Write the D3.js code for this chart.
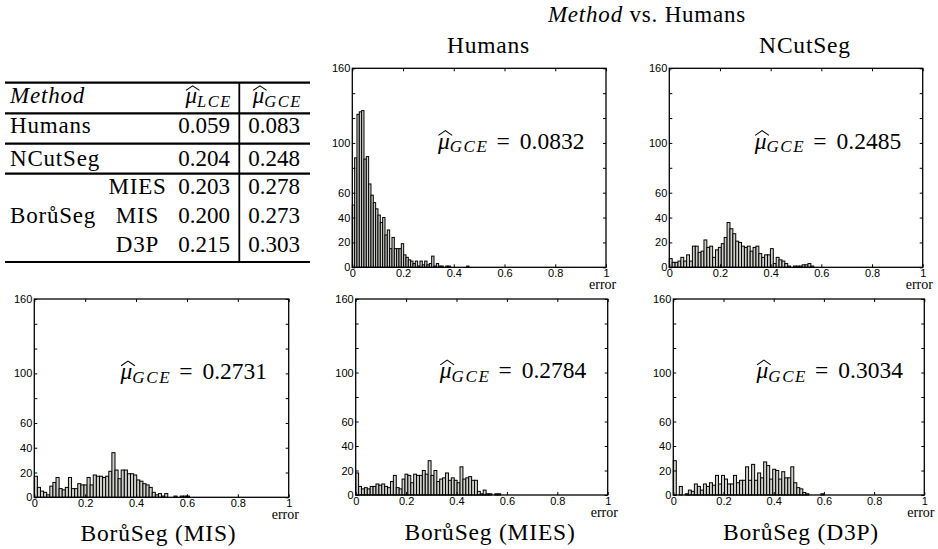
<!DOCTYPE html>
<html>
<head>
<meta charset="utf-8">
<script src="https://cdnjs.cloudflare.com/ajax/libs/d3/7.8.5/d3.min.js"></script>
<style>
body { margin: 0; background: #fff; }
.axis text { font-family: "Liberation Sans", Arial, sans-serif; font-size: 11px; fill: #000; }
.axis line { stroke: #000; stroke-width: 1; }
.axis path { display: none; }
</style>
</head>
<body>
<div id="chart"></div>
<script>
//Datos
const xTicks = [0, 0.2, 0.4, 0.6, 0.8, 1];
const xTickLabels = ['0', '0.2', '0.4', '0.6', '0.8', '1'];
const yTicks = [0, 20, 40, 60, 80, 100, 120, 140, 160];
const yTickLabels = { 0: '0', 20: '20', 40: '40', 60: '60', 100: '100', 160: '160' };
const yMax = 160;

//Histogramas (50 bins entre 0 y el máximo de cada método)
const humansCounts = [50, 88, 123, 125, 126, 87, 89, 67, 58, 52, 47, 42, 36, 40, 26, 30, 15, 24, 15, 15, 15, 19, 10, 8, 6, 5, 3, 5, 1, 5, 2, 5, 2, 3, 9, 1, 3, 1, 1, 0, 1, 1, 0, 0, 0, 0, 0, 0, 0, 1];
const ncutCounts = [7, 4, 4, 5, 8, 5, 10, 5, 17, 17, 12, 13, 22, 16, 17, 8, 14, 16, 19, 24, 36, 31, 27, 21, 20, 17, 16, 17, 13, 16, 17, 11, 8, 10, 10, 15, 3, 8, 6, 5, 3, 1, 0, 1, 1, 1, 2, 2, 3, 1];
const misCounts = [17, 8, 5, 4, 2, 9, 12, 16, 7, 6, 8, 16, 7, 7, 11, 10, 10, 16, 10, 18, 17, 17, 16, 17, 21, 36, 22, 15, 22, 22, 19, 19, 18, 14, 13, 11, 10, 8, 4, 2, 3, 1, 3, 0, 0, 1, 0, 1, 1, 1];
const miesCounts = [18, 7, 5, 6, 5, 7, 7, 9, 8, 9, 7, 6, 11, 16, 6, 5, 13, 17, 16, 10, 17, 16, 16, 20, 17, 28, 16, 20, 11, 13, 14, 18, 12, 14, 12, 10, 23, 13, 14, 15, 12, 12, 3, 1, 4, 1, 1, 0, 1, 1];
const d3pCounts = [28, 0, 7, 0, 1, 4, 3, 9, 7, 4, 9, 7, 10, 8, 16, 9, 16, 13, 9, 9, 16, 10, 12, 12, 23, 12, 25, 12, 18, 14, 27, 24, 13, 21, 20, 13, 19, 14, 14, 23, 10, 6, 5, 2, 1, 0, 0, 0, 0, 1];
const binMax = [0.46, 0.57, 0.61, 0.575, 0.60];

const panelNames = ['Humans', 'NCutSeg', 'BorůSeg (MIS)', 'BorůSeg (MIES)', 'BorůSeg (D3P)'];
const gceLabels = ['0.0832', '0.2485', '0.2731', '0.2784', '0.3034'];

//Tabla
const tableMethods = ['Humans', 'NCutSeg', 'MIES', 'MIS', 'D3P'];
const lceValues = ['0.059', '0.204', '0.203', '0.200', '0.215'];
const gceValues = ['0.083', '0.248', '0.278', '0.273', '0.303'];
const groupLabel = 'BorůSeg';

const SERIF = '"Liberation Serif", "Times New Roman", serif';

//Layout
const W = 938, H = 549;
const svg = d3.select('#chart').append('svg')
    .attr('width', W).attr('height', H)
    .style('display', 'block');

const panels = [
    { x0: 352.3, x1: 606, y0: 68.3, y1: 267.3, tx: 488.5, ty: 52.5 },
    { x0: 669.3, x1: 922.7, y0: 68.3, y1: 267.3, tx: 805, ty: 53 },
    { x0: 34.3, x1: 288.7, y0: 299, y1: 497.3, tx: 158.5, ty: 541 },
    { x0: 355.7, x1: 607.7, y0: 299, y1: 495, tx: 490, ty: 540 },
    { x0: 673.3, x1: 924.3, y0: 299, y1: 495, tx: 801, ty: 540 }
];
const allCounts = [humansCounts, ncutCounts, misCounts, miesCounts, d3pCounts];

function serifText(g, x, y, fs) {
    return g.append('text')
        .attr('x', x).attr('y', y)
        .style('font-family', SERIF)
        .style('font-size', fs + 'px')
        .style('fill', '#000');
}

//μ con sombrero + subíndice (+ resto opcional), alineado a la derecha
function mathLabel(g, xEnd, yBase, fs, sub, subFs, rest) {
    let t = serifText(g, xEnd, yBase, fs).attr('text-anchor', 'end');
    t.append('tspan').style('font-style', 'italic').text('μ');
    t.append('tspan').style('font-style', 'italic')
        .style('font-size', subFs + 'px')
        .style('letter-spacing', '1.6px')
        .attr('dy', fs * 0.16)
        .text(sub);
    if (rest) {
        t.append('tspan').attr('dy', -fs * 0.16).attr('dx', 8).text('=');
        t.append('tspan').attr('dx', 10).text(rest);
    }
    let ex = t.node().getExtentOfChar(0);
    let hx0 = ex.x + 0.5, hx1 = ex.x + ex.width + 2.5;
    g.append('path')
        .attr('d', 'M' + hx0 + ',' + (yBase - fs * 0.56) +
            'L' + ((hx0 + hx1) / 2) + ',' + (yBase - fs * 0.76) +
            'L' + hx1 + ',' + (yBase - fs * 0.56))
        .attr('fill', 'none').attr('stroke', '#000').attr('stroke-width', 1.1);
}

function drawPanel(p, counts, bmax, name, gce) {
    let x = d3.scaleLinear().domain([0, 1]).range([p.x0, p.x1]);
    let y = d3.scaleLinear().domain([0, yMax]).range([p.y1, p.y0]);
    let bw = bmax / counts.length;
    let g = svg.append('g');

    g.append('g').selectAll('rect')
        .data(counts)
        .enter()
        .append('rect')
        .attr('x', function(d, i) { return x(i * bw); })
        .attr('width', x(bw) - x(0))
        .attr('y', function(d) { return y(d); })
        .attr('height', function(d) { return y(0) - y(d); })
        .attr('fill', '#cfcfcb')
        .attr('stroke', '#000')
        .attr('stroke-width', 1);

    //Ejes
    g.append('g').attr('class', 'axis')
        .attr('transform', 'translate(0,' + p.y1 + ')')
        .call(d3.axisBottom(x).tickValues(xTicks).tickSize(-3).tickPadding(2)
            .tickFormat(function(d, i) { return xTickLabels[i]; }));
    g.append('g').attr('class', 'axis')
        .attr('transform', 'translate(0,' + p.y0 + ')')
        .call(d3.axisTop(x).tickValues(xTicks).tickSize(-3).tickFormat(''));
    g.append('g').attr('class', 'axis')
        .attr('transform', 'translate(' + p.x0 + ',0)')
        .call(d3.axisLeft(y).tickValues(yTicks).tickSize(-3).tickPadding(2)
            .tickFormat(function(d) { return yTickLabels[d] || ''; }));
    g.append('g').attr('class', 'axis')
        .attr('transform', 'translate(' + p.x1 + ',0)')
        .call(d3.axisRight(y).tickValues(yTicks).tickSize(-3).tickFormat(''));

    g.append('rect')
        .attr('x', p.x0).attr('y', p.y0)
        .attr('width', p.x1 - p.x0).attr('height', p.y1 - p.y0)
        .attr('fill', 'none').attr('stroke', '#000').attr('stroke-width', 1.3);

    serifText(g, p.x1 - 17, p.y1 + 22, 14).text('error');

    //Título
    serifText(g, p.tx, p.ty, 23.5)
        .attr('text-anchor', 'middle')
        .style('letter-spacing', '0.8px')
        .text(name);

    //Media GCE
    mathLabel(g, x(0.915), y(95.5), 23.5, 'GCE', 17, gce);
}

panels.forEach(function(p, i) {
    drawPanel(p, allCounts[i], binMax[i], panelNames[i], gceLabels[i]);
});

//Título superior
let topTitle = serifText(svg, 647, 22, 23)
    .attr('text-anchor', 'middle')
    .style('letter-spacing', '0.8px');
topTitle.append('tspan').style('font-style', 'italic').text('Method');
topTitle.append('tspan').text(' vs. Humans');

//Tabla
let tab = svg.append('g');
[82.7, 113.3, 143.7, 173.7, 262].forEach(function(yy) {
    tab.append('line').attr('x1', 5).attr('x2', 310).attr('y1', yy).attr('y2', yy)
        .attr('stroke', '#000').attr('stroke-width', 2.2);
});
tab.append('line').attr('x1', 239.3).attr('x2', 239.3).attr('y1', 82.7).attr('y2', 262)
    .attr('stroke', '#000').attr('stroke-width', 1.8);

serifText(tab, 10, 103.3, 23)
    .style('font-style', 'italic').style('letter-spacing', '0.8px')
    .text('Method');
mathLabel(tab, 232, 103.3, 23, 'LCE', 16.5, null);
mathLabel(tab, 302, 103.3, 23, 'GCE', 16.5, null);

const rowY = [133.3, 165.5, 194.3, 223.3, 251.7];
tableMethods.forEach(function(m, i) {
    let sub = i >= 2;
    serifText(tab, sub ? 137.5 : 10, rowY[i], 23)
        .attr('text-anchor', sub ? 'middle' : 'start')
        .style('letter-spacing', '0.8px')
        .text(m);
    serifText(tab, 230, rowY[i], 23).attr('text-anchor', 'end').text(lceValues[i]);
    serifText(tab, 300, rowY[i], 23).attr('text-anchor', 'end').text(gceValues[i]);
});
serifText(tab, 10, rowY[3], 23)
    .style('letter-spacing', '0.8px')
    .text(groupLabel);
</script>
</body>
</html>
